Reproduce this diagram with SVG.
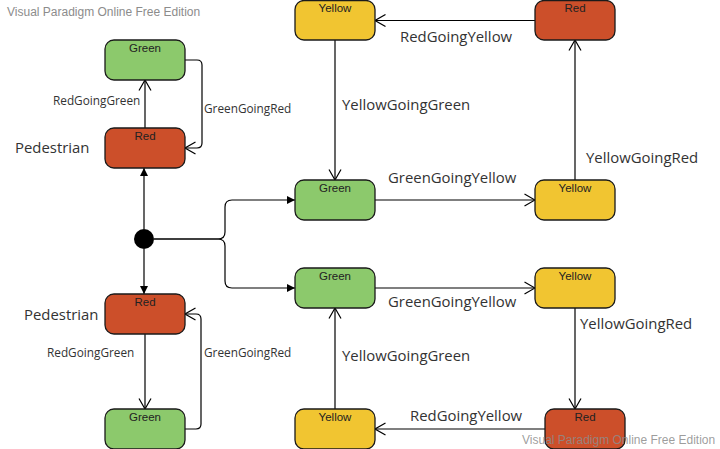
<svg xmlns="http://www.w3.org/2000/svg" width="720" height="449" viewBox="0 0 720 449">
<style>
.n rect{stroke:#1a1a1a;stroke-width:1.3}
.g rect{fill:#8cc96c}
.y rect{fill:#f1c531}
.r rect{fill:#cc4f2a}
.n text{font-family:"Liberation Sans",Arial,sans-serif;font-size:11.5px;fill:#222;text-anchor:middle}
.c path{fill:none;stroke:#000;stroke-width:1.2}
.lbl{font-family:"Open Sans","Noto Sans",sans-serif;fill:#333}
.s{font-size:11.8px}
.b{font-size:14.9px}
.wm{font-family:"Liberation Sans",Arial,sans-serif;font-size:12px;fill:#8c8c8c}
</style>
<defs>
<marker id="open" viewBox="0 0 12 14" markerWidth="12" markerHeight="14" refX="11.5" refY="7" orient="auto" markerUnits="userSpaceOnUse">
<path d="M1,1 L11.5,7 L1,13" fill="none" stroke="#000" stroke-width="1.2"/>
</marker>
<marker id="fill" viewBox="0 0 10 10" markerWidth="9" markerHeight="10" refX="9" refY="5" orient="auto" markerUnits="userSpaceOnUse">
<path d="M0,0.5 L9,5 L0,9.5 Z" fill="#000"/>
</marker>
</defs>
<rect width="720" height="449" fill="#fff"/>
<text class="wm" x="7" y="16">Visual Paradigm Online Free Edition</text>

<g class="c">
<path d="M145,128 L145,80" marker-end="url(#open)"/>
<path d="M185,60 L197,60 Q202,60 202,65 L202,143 Q202,148 197,148 L185,148" marker-end="url(#open)"/>
<path d="M144,229 L144,168" marker-end="url(#fill)"/>
<path d="M144,249 L144,294" marker-end="url(#fill)"/>
<path d="M145,334 L145,409" marker-end="url(#open)"/>
<path d="M185,429 L196,429 Q201,429 201,424 L201,319 Q201,314 196,314 L185,314" marker-end="url(#open)"/>
<path d="M154,239 L218,239 Q225,239 225,232 L225,207 Q225,200 232,200 L295,200" stroke-width="1.5" marker-end="url(#fill)"/>
<path d="M154,239 L218,239 Q225,239 225,246 L225,281 Q225,288 232,288 L295,288" stroke-width="1.5" marker-end="url(#fill)"/>
<path d="M535,20.5 L375,20.5" marker-end="url(#open)"/>
<path d="M335,40 L335,180" marker-end="url(#open)"/>
<path d="M375,200 L535,200" marker-end="url(#open)"/>
<path d="M575,180 L575,40" marker-end="url(#open)"/>
<path d="M375,288 L535,288" marker-end="url(#open)"/>
<path d="M575,308 L575,409" marker-end="url(#open)"/>
<path d="M545,429 L375,429" marker-end="url(#open)"/>
<path d="M335,409 L335,308" marker-end="url(#open)"/>
</g>

<circle id="initial" cx="144" cy="239" r="10" fill="#000"/>

<g id="ped1-green" class="n g"><rect x="105" y="40" width="80" height="40" rx="9"/><text x="145" y="52">Green</text></g>
<g id="ped1-red" class="n r"><rect x="105" y="128" width="80" height="40" rx="9"/><text x="145" y="140">Red</text></g>
<g id="ped2-red" class="n r"><rect x="105" y="294" width="80" height="40" rx="9"/><text x="145" y="306">Red</text></g>
<g id="ped2-green" class="n g"><rect x="105" y="409" width="80" height="40" rx="9"/><text x="145" y="421">Green</text></g>

<g id="t1-yellow" class="n y"><rect x="295" y="0.5" width="80" height="39.5" rx="9"/><text x="335" y="12">Yellow</text></g>
<g id="t1-red" class="n r"><rect x="535" y="0.5" width="80" height="39.5" rx="9"/><text x="575" y="12">Red</text></g>
<g id="t1-green" class="n g"><rect x="295" y="180" width="80" height="40" rx="9"/><text x="335" y="192">Green</text></g>
<g id="t1-yellow2" class="n y"><rect x="535" y="180" width="80" height="40" rx="9"/><text x="575" y="192">Yellow</text></g>

<g id="t2-green" class="n g"><rect x="295" y="268" width="80" height="40" rx="9"/><text x="335" y="280">Green</text></g>
<g id="t2-yellow" class="n y"><rect x="535" y="268" width="80" height="40" rx="9"/><text x="575" y="280">Yellow</text></g>
<g id="t2-yellow2" class="n y"><rect x="295" y="409" width="80" height="40" rx="9"/><text x="335" y="421">Yellow</text></g>
<g id="t2-red" class="n r"><rect x="545" y="409" width="80" height="40" rx="9"/><text x="585" y="421">Red</text></g>

<g id="labels">
<text class="lbl b" x="15" y="153">Pedestrian</text>
<text class="lbl b" x="24" y="320">Pedestrian</text>
<text class="lbl s" x="53" y="105">RedGoingGreen</text>
<text class="lbl s" x="204" y="113">GreenGoingRed</text>
<text class="lbl s" x="47" y="357">RedGoingGreen</text>
<text class="lbl s" x="204" y="357">GreenGoingRed</text>
<text class="lbl b" x="400" y="42">RedGoingYellow</text>
<text class="lbl b" x="342" y="110">YellowGoingGreen</text>
<text class="lbl b" x="388" y="183">GreenGoingYellow</text>
<text class="lbl b" x="586" y="163">YellowGoingRed</text>
<text class="lbl b" x="388" y="307">GreenGoingYellow</text>
<text class="lbl b" x="580" y="329">YellowGoingRed</text>
<text class="lbl b" x="342" y="361">YellowGoingGreen</text>
<text class="lbl b" x="410" y="421">RedGoingYellow</text>
</g>
<text class="wm" x="522" y="444" fill-opacity="0.85">Visual Paradigm Online Free Edition</text>
</svg>
